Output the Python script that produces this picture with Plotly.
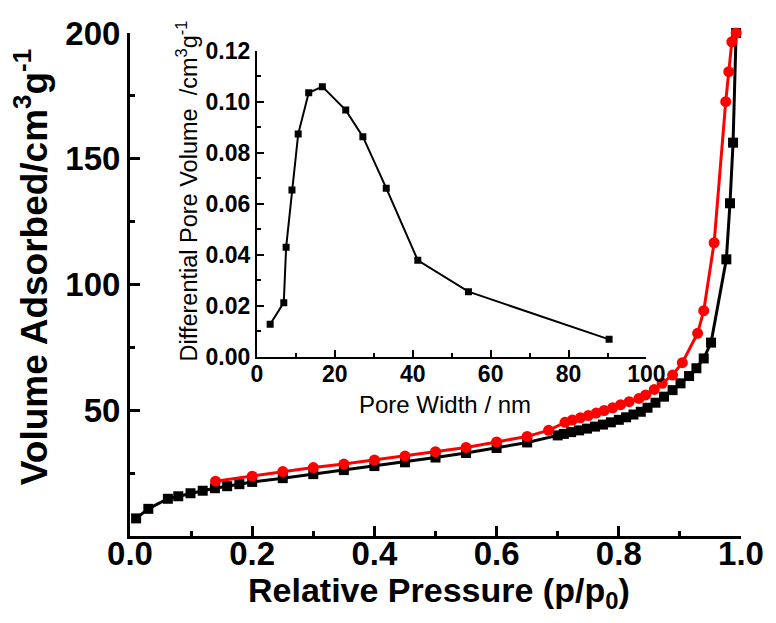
import plotly.graph_objects as go

# Main isotherm: adsorption (black squares)
ads_p = [0.01, 0.03, 0.062, 0.079, 0.099, 0.119, 0.139, 0.159, 0.179, 0.200,
         0.25, 0.30, 0.35, 0.40, 0.45, 0.50, 0.55, 0.60, 0.65, 0.70,
         0.71, 0.722, 0.735, 0.748, 0.761, 0.774, 0.787, 0.80, 0.812, 0.824,
         0.836, 0.847, 0.860, 0.874, 0.888, 0.901, 0.915, 0.927, 0.939, 0.951,
         0.976, 0.982, 0.987, 0.992]
ads_v = [7.0, 10.8, 14.8, 15.8, 17.0, 18.0, 19.0, 19.8, 20.6, 21.5,
         23.0, 24.6, 26.2, 27.8, 29.3, 31.2, 33.0, 35.0, 37.2, 40.0,
         40.6, 41.3, 42.0, 42.7, 43.5, 44.3, 45.2, 46.2, 47.2, 48.3,
         49.4, 51.0, 53.0, 55.4, 58.0, 60.7, 63.6, 66.7, 70.6, 76.9,
         110.0, 132.3, 156.4, 200.0]

# Desorption (red circles)
des_p = [0.14, 0.20, 0.25, 0.30, 0.35, 0.40, 0.45, 0.50, 0.55, 0.60,
         0.65, 0.685, 0.712, 0.724, 0.737, 0.75, 0.763, 0.776, 0.79, 0.803,
         0.817, 0.833, 0.844, 0.858, 0.871, 0.888, 0.904, 0.929, 0.939, 0.956,
         0.975, 0.980, 0.985, 0.992]
des_v = [21.8, 23.8, 25.6, 27.2, 28.6, 30.2, 31.8, 33.5, 35.2, 37.4,
         39.6, 42.0, 45.2, 46.1, 47.0, 47.9, 48.9, 49.9, 51.0, 52.2,
         53.4, 54.7, 56.1, 58.3, 60.7, 64.0, 68.9, 80.6, 89.6, 116.6,
         172.7, 184.6, 196.5, 200.0]

# Inset: pore size distribution
pore_w = [3.4, 6.9, 7.5, 9.0, 10.6, 13.3, 16.8, 22.8, 27.2, 33.2, 41.3, 54.3, 90.4]
pore_v = [0.0127, 0.0212, 0.0429, 0.0654, 0.0873, 0.1035, 0.1059, 0.0967,
          0.0863, 0.0661, 0.0378, 0.0255, 0.0068]

main_xticks = [0.0, 0.2, 0.4, 0.6, 0.8, 1.0]
main_yticks = [50, 100, 150, 200]
inset_xticks = [0, 20, 40, 60, 80, 100]
inset_yticks = [0.00, 0.02, 0.04, 0.06, 0.08, 0.10, 0.12]

FONT = "Liberation Sans, Arial, sans-serif"

fig = go.Figure()
fig.add_trace(go.Scatter(x=ads_p, y=ads_v, mode="lines+markers",
                         line=dict(color="black", width=3),
                         marker=dict(symbol="square", size=10, color="black"),
                         cliponaxis=False, showlegend=False))
fig.add_trace(go.Scatter(x=des_p, y=des_v, mode="lines+markers",
                         line=dict(color="#ff0000", width=3),
                         marker=dict(symbol="circle", size=11, color="#ff0000"),
                         cliponaxis=False, showlegend=False))
fig.add_trace(go.Scatter(x=pore_w, y=pore_v, mode="lines+markers",
                         xaxis="x2", yaxis="y2",
                         line=dict(color="black", width=2),
                         marker=dict(symbol="square", size=7, color="black"),
                         showlegend=False))

fig.update_layout(
    width=776, height=623,
    margin=dict(l=130, r=32, t=33, b=87),
    paper_bgcolor="white", plot_bgcolor="rgba(0,0,0,0)",
    xaxis=dict(range=[0, 1], domain=[0, 1], tickvals=main_xticks,
               ticktext=[f"{v:.1f}" for v in main_xticks],
               showline=True, linecolor="black", linewidth=3, mirror=False,
               ticks="inside", ticklen=10, tickwidth=2.5, tickcolor="black",
               minor=dict(dtick=0.1, ticks="inside", ticklen=5, tickwidth=2.5, tickcolor="black"),
               showgrid=False, zeroline=False, ticklabelstandoff=-14,
               tickfont=dict(family=FONT, size=33, color="black", weight="bold")),
    yaxis=dict(range=[0, 200], domain=[0, 1], tickvals=main_yticks,
               showline=True, linecolor="black", linewidth=3, mirror=False,
               ticks="inside", ticklen=10, tickwidth=2.5, tickcolor="black",
               minor=dict(tickvals=[25, 75, 125, 175], ticks="inside", ticklen=5,
                          tickwidth=2.5, tickcolor="black"),
               showgrid=False, zeroline=False,
               tickfont=dict(family=FONT, size=33, color="black", weight="bold")),
    xaxis2=dict(range=[0, 100], domain=[0.2077, 0.8453], anchor="y2",
                tickvals=inset_xticks,
                showline=True, linecolor="black", linewidth=2, mirror=False,
                ticks="inside", ticklen=7, tickwidth=2, tickcolor="black",
                minor=dict(dtick=10, ticks="inside", ticklen=4, tickwidth=2, tickcolor="black"),
                showgrid=False, zeroline=False, ticklabelstandoff=-4,
                tickfont=dict(family=FONT, size=23, color="black", weight="bold")),
    yaxis2=dict(range=[0, 0.12], domain=[0.3565, 0.9648], anchor="x2",
                tickvals=inset_yticks,
                ticktext=[f"{v:.2f}" for v in inset_yticks],
                showline=True, linecolor="black", linewidth=2, mirror=False,
                ticks="inside", ticklen=7, tickwidth=2, tickcolor="black",
                minor=dict(dtick=0.01, ticks="inside", ticklen=4, tickwidth=2, tickcolor="black"),
                showgrid=False, zeroline=False,
                tickfont=dict(family=FONT, size=23, color="black", weight="bold")),
)

fig.add_annotation(text="Relative Pressure (p/p<sub>0</sub>)", xref="paper", yref="paper",
                   x=0.505, y=-0.113, xanchor="center", yanchor="middle", showarrow=False,
                   font=dict(family=FONT, size=34, color="black", weight="bold"))
fig.add_annotation(text="Volume Adsorbed/cm<sup>3</sup>g<sup>-1</sup>", xref="paper", yref="paper",
                   x=-0.16, y=0.535, xanchor="center", yanchor="middle", textangle=-90,
                   showarrow=False,
                   font=dict(family=FONT, size=37, color="black", weight="bold"))
fig.add_annotation(text="Pore Width / nm", xref="paper", yref="paper",
                   x=0.516, y=0.262, xanchor="center", yanchor="middle", showarrow=False,
                   font=dict(family=FONT, size=24, color="black"))
fig.add_annotation(text="Differential Pore Volume  /cm<sup>3</sup>g<sup>-1</sup>", xref="paper", yref="paper",
                   x=0.094, y=0.686, xanchor="center", yanchor="middle", textangle=-90,
                   showarrow=False,
                   font=dict(family=FONT, size=23.5, color="black"))

fig.write_html("out.html")
